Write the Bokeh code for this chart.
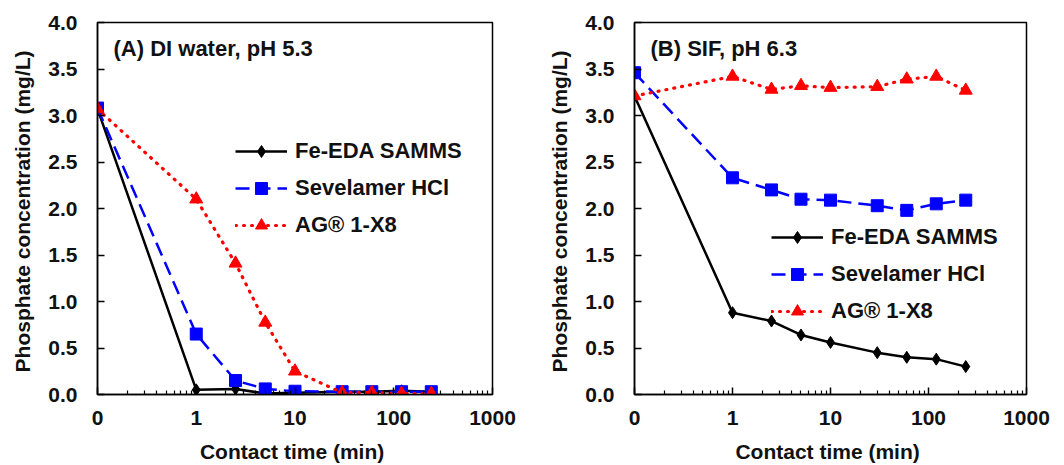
from bokeh.plotting import figure
from bokeh.layouts import row
from bokeh.models import (FixedTicker, Legend, LegendItem, Label, Range1d,
                          NumeralTickFormatter)
from bokeh.embed import file_html
from bokeh.resources import INLINE

# ---- data ----
time_min = [0, 1, 2.5, 5, 10, 30, 60, 120, 240]
x_ticks = [0.1, 1, 10, 100, 1000]
x_tick_labels = ["0", "1", "10", "100", "1000"]
series_names = ["Fe-EDA SAMMS", "Sevelamer HCl", "AG® 1-X8"]

a_fe_eda = [3.07, 0.05, 0.06, 0.01, 0.02, 0.03, 0.03, 0.04, 0.03]
a_sevelamer = [3.08, 0.65, 0.15, 0.06, 0.035, 0.03, 0.03, 0.03, 0.03]
a_ag = [3.07, 2.10, 1.41, 0.775, 0.25, 0.02, 0.02, 0.01, 0.01]

b_fe_eda = [3.21, 0.88, 0.79, 0.64, 0.56, 0.45, 0.40, 0.38, 0.30]
b_sevelamer = [3.46, 2.33, 2.20, 2.10, 2.09, 2.03, 1.98, 2.05, 2.09]
b_ag = [3.21, 3.42, 3.28, 3.32, 3.30, 3.31, 3.39, 3.42, 3.27]

panel_titles = ["(A) DI water, pH 5.3", "(B) SIF, pH 6.3"]

FONT = "Liberation Sans"
TXT = "#111111"
FS = "21px"
FS_BIG = "22px"

# time 0 is drawn at the 0.1 position of the log axis (labelled "0")
x_plot = [t if t > 0 else 0.1 for t in time_min]
minor = [m * d for d in (0.1, 1, 10, 100) for m in range(2, 10)]


def make_panel(width, left_border, fe, sev, ag, title, leg_loc):
    p = figure(width=width, height=465, x_axis_type="log",
               x_range=Range1d(0.1, 1000), y_range=Range1d(0, 4),
               output_backend="svg", toolbar_location=None,
               min_border_left=left_border, min_border_right=38,
               min_border_top=22, min_border_bottom=70)
    p.background_fill_color = "white"
    p.border_fill_color = "white"
    p.outline_line_color = "black"
    p.outline_line_width = 1.5
    p.grid.visible = False

    xa = p.xaxis[0]
    xa.ticker = FixedTicker(ticks=x_ticks, minor_ticks=minor)
    xa.major_label_overrides = {t: l for t, l in zip(x_ticks, x_tick_labels)}
    xa.axis_label = "Contact time  (min)"
    xa.major_tick_in = 7
    xa.major_tick_out = 0
    xa.minor_tick_in = 4
    xa.minor_tick_out = 0
    xa.major_label_standoff = 16
    xa.axis_label_standoff = 12

    ya = p.yaxis[0]
    ya.ticker = FixedTicker(ticks=[i * 0.5 for i in range(9)])
    ya.formatter = NumeralTickFormatter(format="0.0")
    ya.axis_label = "Phosphate concentration  (mg/L)"
    ya.major_tick_in = 7
    ya.major_tick_out = 0
    ya.minor_tick_in = 0
    ya.minor_tick_out = 0
    ya.major_label_standoff = 20
    ya.axis_label_standoff = 11

    for ax in (xa, ya):
        ax.axis_line_color = "black"
        ax.axis_line_width = 1.5
        ax.major_tick_line_color = "black"
        ax.major_tick_line_width = 1.5
        ax.minor_tick_line_color = "black"
        ax.minor_tick_line_width = 1.2
        ax.major_label_text_font = FONT
        ax.major_label_text_font_style = "bold"
        ax.major_label_text_font_size = FS
        ax.major_label_text_color = TXT
        ax.axis_label_text_font = FONT
        ax.axis_label_text_font_style = "bold"
        ax.axis_label_text_font_size = FS
        ax.axis_label_text_color = TXT

    l1 = p.line(x_plot, fe, line_color="black", line_width=2.5)
    m1 = p.scatter(x_plot, fe, marker="diamond", size=12,
                   fill_color="black", line_color="black")
    l2 = p.line(x_plot, sev, line_color="#0000FF", line_width=2.5,
                line_dash="14 7")
    m2 = p.scatter(x_plot, sev, marker="square", size=12,
                   fill_color="#0000FF", line_color="#0000FF")
    l3 = p.line(x_plot, ag, line_color="#FF0000", line_width=3.2,
                line_dash="1 7", line_cap="round")
    m3 = p.scatter(x_plot, ag, marker="triangle", size=13,
                   fill_color="#FF0000", line_color="#FF0000")

    legend = Legend(items=[
        LegendItem(label=series_names[0], renderers=[l1, m1]),
        LegendItem(label=series_names[1], renderers=[l2, m2]),
        LegendItem(label=series_names[2], renderers=[l3, m3]),
    ], location=leg_loc)
    legend.background_fill_alpha = 0
    legend.border_line_alpha = 0
    legend.padding = 0
    legend.margin = 0
    legend.glyph_width = 52
    legend.glyph_height = 30
    legend.label_height = 30
    legend.spacing = 7
    legend.label_standoff = 8
    legend.label_text_font = FONT
    legend.label_text_font_style = "bold"
    legend.label_text_font_size = FS_BIG
    legend.label_text_color = TXT
    p.add_layout(legend, "center")

    p.add_layout(Label(x=16, y=346, x_units="screen", y_units="screen",
                       text=title, text_font=FONT, text_font_style="bold",
                       text_font_size=FS_BIG, text_color=TXT,
                       text_baseline="middle"))
    return p


p1 = make_panel(530, 97, a_fe_eda, a_sevelamer, a_ag, panel_titles[0], (138, 154))
p2 = make_panel(534, 104, b_fe_eda, b_sevelamer, b_ag, panel_titles[1], (137, 68))

layout = row(p1, p2)
open("out.html", "w").write(file_html(layout, INLINE))
